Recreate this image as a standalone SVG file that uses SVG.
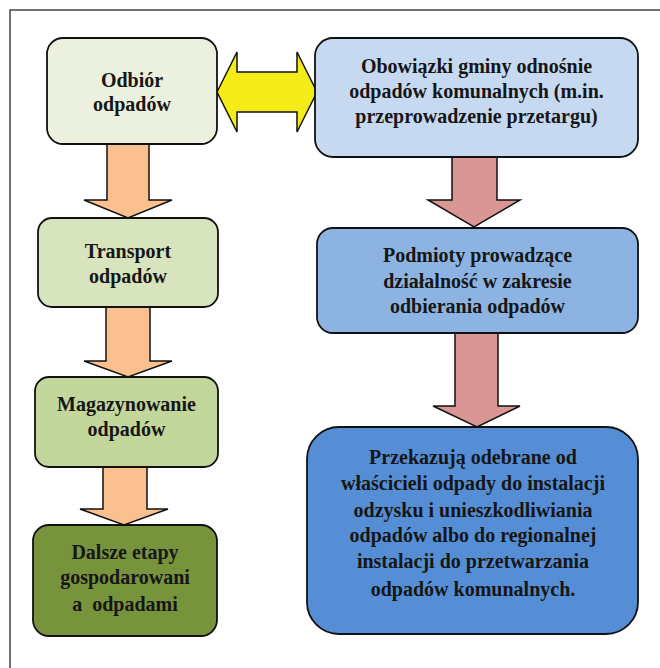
<svg xmlns="http://www.w3.org/2000/svg" width="660" height="668" viewBox="0 0 660 668">
<style>
.box{stroke:#111;stroke-width:1.8}
.arr{stroke:#111;stroke-width:1.5;stroke-linejoin:miter}
.t{font-family:'Liberation Serif','DejaVu Serif',serif;font-weight:700;font-size:20px;fill:#161616;text-anchor:middle}
.frame{fill:none;stroke:#444;stroke-width:1.5}
</style>
<rect width="660" height="668" fill="#fff"/>
<path class="frame" d="M10,668 V10 H660"/>
<g id="connectors">
<path class="arr" fill="#F4EC18" d="M217,92 L237,52 V72 H297 V52 L317,92 L297,132 V112 H237 V132 Z"/>
<path class="arr" fill="#FAC090" d="M107,144 V200 H84 L128,218 L172,200 H149 V144"/>
<path class="arr" fill="#FAC090" d="M106,307 V361 H84 L128,377 L172,361 H150 V307"/>
<path class="arr" fill="#FAC090" d="M103,467 V509 H80 L124,525 L168,509 H147 V467"/>
<path class="arr" fill="#D99694" d="M452,157 V200 H428 L474,227 L520,200 H497 V157"/>
<path class="arr" fill="#D99694" d="M455,333 V406 H433 L477,427 L520,406 H498 V333"/>
</g>
<g id="odbior">
<rect class="box" x="47" y="38" width="170" height="106" rx="16" fill="#EBF1DE"/>
<text class="t" x="132" y="87">Odbiór</text>
<text class="t" x="132" y="111">odpadów</text>
</g>
<g id="transport">
<rect class="box" x="38" y="218" width="180" height="89" rx="14" fill="#D7E4BD"/>
<text class="t" x="128" y="258">Transport</text>
<text class="t" x="128" y="283">odpadów</text>
</g>
<g id="magazynowanie">
<rect class="box" x="35" y="377" width="183" height="90" rx="14" fill="#C3D69B"/>
<text class="t" x="126.5" y="411">Magazynowanie</text>
<text class="t" x="126.5" y="436">odpadów</text>
</g>
<g id="dalsze">
<rect class="box" x="33" y="525" width="184" height="111" rx="16" fill="#77933C"/>
<text class="t" x="125" y="559">Dalsze etapy</text>
<text class="t" x="125" y="584">gospodarowani</text>
<text class="t" x="125" y="611" xml:space="preserve">a  odpadami</text>
</g>
<g id="obowiazki">
<rect class="box" x="315" y="38" width="323" height="119" rx="18" fill="#C6D9F1"/>
<text class="t" x="476.5" y="73">Obowiązki gminy odnośnie</text>
<text class="t" x="476.5" y="98">odpadów komunalnych (m.in.</text>
<text class="t" x="476.5" y="123">przeprowadzenie przetargu)</text>
</g>
<g id="podmioty">
<rect class="box" x="317" y="228" width="321" height="105" rx="16" fill="#8DB3E2"/>
<text class="t" x="477.5" y="262">Podmioty prowadzące</text>
<text class="t" x="477.5" y="288">działalność w zakresie</text>
<text class="t" x="477.5" y="313">odbierania odpadów</text>
</g>
<g id="przekazuja">
<rect class="box" x="307" y="427" width="331" height="207" rx="32" fill="#558ED5"/>
<text class="t" x="473" y="464">Przekazują odebrane od</text>
<text class="t" x="473" y="490">właścicieli odpady do instalacji</text>
<text class="t" x="473" y="517">odzysku i unieszkodliwiania</text>
<text class="t" x="473" y="542">odpadów albo do regionalnej</text>
<text class="t" x="473" y="568">instalacji do przetwarzania</text>
<text class="t" x="473" y="596">odpadów komunalnych.</text>
</g>
</svg>
